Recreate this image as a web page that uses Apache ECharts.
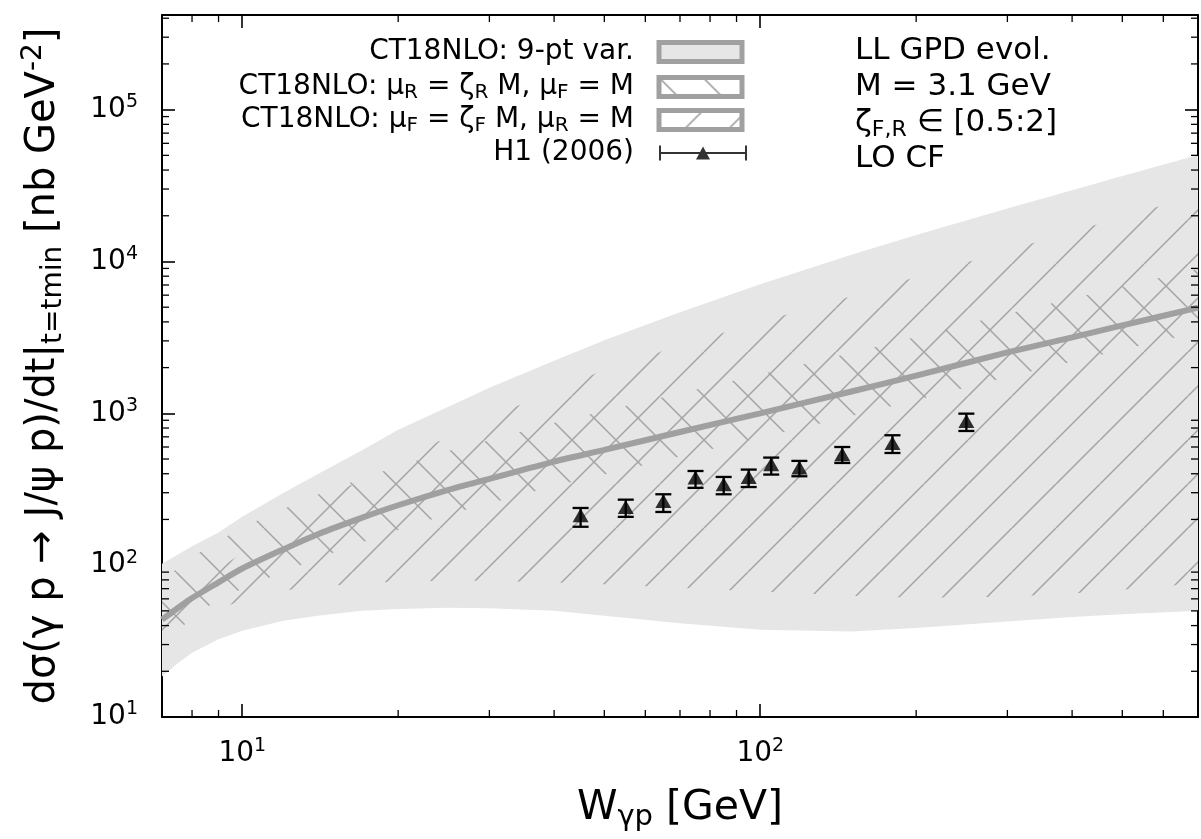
<!DOCTYPE html>
<html>
<head>
<meta charset="utf-8">
<script src="https://cdn.jsdelivr.net/npm/echarts/dist/echarts.min.js"></script>
<style>
  html, body { margin: 0; padding: 0; background: #fff; }
  #chart { width: 1201px; height: 839px; }
</style>
</head>
<body>
<div id="chart"></div>
<script>
// ---------------- data ----------------
const W = [7, 7.5, 8, 9, 10, 12, 14, 17, 20, 25, 30, 40, 50, 70, 100, 150, 200, 300, 400, 500, 700];
const centralLine   = [43.8, 52, 60.7, 77, 95, 127, 160, 205, 248, 313, 370, 481, 574, 753, 1000, 1393, 1770, 2518, 3166, 3795, 4964];
const band9ptLower  = [18.5, 22.5, 26.5, 32.5, 37, 43, 46.5, 50, 51.5, 52.5, 52, 50, 46.5, 41.5, 37.5, 36.5, 38.5, 42.5, 45.5, 47.5, 50];
const band9ptUpper  = [102, 117, 133, 164, 208, 299, 399, 568, 778, 1104, 1472, 2222, 3027, 4634, 7079, 11090, 14950, 22340, 29500, 36560, 50350];
const muRLower      = [30, 36, 46, 59, 70, 90, 111, 141, 171, 216, 255, 332, 396, 520, 690, 961, 1221, 1737, 2185, 2619, 3425];
const muRUpper      = [80, 95, 113, 144, 177, 234, 292, 372, 448, 565, 668, 868, 1035, 1355, 1800, 2507, 3186, 4532, 5699, 6831, 8935];
const muFLower      = [28, 35, 41, 51, 59, 68, 72, 76, 78, 79, 79, 77, 75, 71, 67, 63, 61, 62, 65, 69, 76];
const muFUpper      = [50, 60, 72, 95, 120, 190, 255, 370, 490, 700, 930, 1420, 1930, 2800, 4000, 5900, 7900, 11800, 15700, 19600, 27400];

const h1W   = [45, 55, 65, 75, 85, 95, 105, 119, 144, 180, 250];
const h1Val = [213, 242, 265, 378, 341, 381, 462, 439, 537, 638, 889];
const h1Lo  = [179, 208, 224, 323, 293, 327, 395, 385, 471, 548, 765];
const h1Hi  = [238, 270, 293, 417, 381, 426, 511, 486, 600, 717, 995];

const xMajorTicks = [10, 100];
const xMinorTicks = [8, 9, 20, 30, 40, 50, 60, 70, 80, 90, 200, 300, 400, 500, 600];
const yMajorTicks = [10, 100, 1000, 10000, 100000];
const yMinorTicks = [20, 30, 40, 50, 60, 70, 80, 90,
                     200, 300, 400, 500, 600, 700, 800, 900,
                     2000, 3000, 4000, 5000, 6000, 7000, 8000, 9000,
                     20000, 30000, 40000, 50000, 60000, 70000, 80000, 90000,
                     200000, 300000, 400000];

const nameBand = 'CT18NLO: 9-pt var.';
const nameMuR  = 'CT18NLO: μR = ζR M, μF = M';
const nameMuF  = 'CT18NLO: μF = ζF M, μR = M';
const nameH1   = 'H1 (2006)';
const legendText = {};
legendText[nameBand] = 'CT18NLO: 9-pt var.';
legendText[nameMuR]  = 'CT18NLO: μ{sub|R} = ζ{sub|R} M, μ{sub|F} = M';
legendText[nameMuF]  = 'CT18NLO: μ{sub|F} = ζ{sub|F} M, μ{sub|R} = M';
legendText[nameH1]   = 'H1 (2006)';

// ---------------- styles ----------------
const FONT = 'DejaVu Sans';
const BAND_GREY = '#e6e6e6';
const EDGE_GREY = '#a0a0a0';
const HATCH_GREY = '#a4a4a4';

function hatch(dir, S, color, lw) {
  const c = document.createElement('canvas');
  c.width = S; c.height = S;
  const ctx = c.getContext('2d');
  ctx.strokeStyle = color;
  ctx.lineWidth = lw;
  ctx.beginPath();
  for (let k = -1; k <= 1; k++) {
    if (dir === '/') { ctx.moveTo(k * S, S); ctx.lineTo(k * S + S, 0); }
    else { ctx.moveTo(k * S, 0); ctx.lineTo(k * S + S, S); }
  }
  ctx.stroke();
  return { image: c, repeat: 'repeat' };
}
const hatchFwd = hatch('/', 44, HATCH_GREY, 1.5);
const hatchBack = hatch('\\', 44, HATCH_GREY, 1.5);
const hatchFwdLeg = hatch('/', 44, HATCH_GREY, 1.6);
const hatchBackLeg = hatch('\\', 44, HATCH_GREY, 1.6);

function isMajor(list, v) {
  return list.some(t => Math.abs(t - v) / t < 1e-6);
}
function powLabel(list) {
  return function (v) {
    if (!isMajor(list, v)) return '';
    return '10{sup|' + Math.round(Math.log10(v)) + '}';
  };
}

function bandSeries(name, lower, upper, fill, z) {
  return {
    type: 'custom',
    name: name,
    coordinateSystem: 'cartesian2d',
    clip: true,
    silent: true,
    z: z,
    data: [[W[0], lower[0]]],
    renderItem: function (params, api) {
      const pts = [];
      for (let i = 0; i < W.length; i++) pts.push(api.coord([W[i], upper[i]]));
      for (let i = W.length - 1; i >= 0; i--) pts.push(api.coord([W[i], lower[i]]));
      return { type: 'polygon', shape: { points: pts }, style: { fill: fill, stroke: null } };
    }
  };
}

const tickStyle = { stroke: '#000', lineWidth: 1.3 };
const MINOR = 7;

const labelRich = {
  sup: { fontFamily: FONT, fontSize: 19, lineHeight: 20, verticalAlign: 'top', color: '#000' }
};

const legendTextStyle = {
  fontFamily: FONT, fontSize: 28, color: '#000', lineHeight: 32,
  padding: [0, 20, 0, 0],
  rich: { sub: { fontFamily: FONT, fontSize: 20, lineHeight: 16, verticalAlign: 'bottom', color: '#000' } }
};
function legendBlock(name, top, itemStyle, icon, iw, ih, right) {
  return {
    orient: 'vertical', align: 'right', right: right, top: top, padding: 0,
    selectedMode: false, itemWidth: iw, itemHeight: ih, icon: icon,
    textStyle: legendTextStyle,
    formatter: function (n) { return legendText[n]; },
    data: [{ name: name, icon: icon, itemStyle: itemStyle }]
  };
}

const chart = echarts.init(document.getElementById('chart'), null, { renderer: 'canvas' });

const axisCommon = {
  type: 'log', logBase: 10,
  splitLine: { show: false },
  axisLine: { show: true, onZero: false, lineStyle: { color: '#000', width: 2 } },
  axisTick: { show: true, inside: true, length: 13, lineStyle: { color: '#000', width: 1.6 } }
};

const option = {
  animation: false,
  backgroundColor: '#fff',
  grid: { left: 162, top: 15, right: -2, bottom: 122 },
  title: {
    left: 855, top: 33, padding: 0,
    text: 'LL GPD evol.\nM = 3.1 GeV\nζ{sub|F,R} ∈ [0.5:2]\nLO CF',
    textStyle: {
      fontFamily: FONT, fontSize: 31, fontWeight: 'normal', color: '#000', lineHeight: 36,
      rich: { sub: { fontFamily: FONT, fontSize: 22, fontWeight: 'normal', lineHeight: 18, verticalAlign: 'bottom', color: '#000' } }
    }
  },
  legend: [
    legendBlock(nameBand, 36, { color: BAND_GREY, borderColor: EDGE_GREY, borderWidth: 5 }, 'rect', 83, 19, 456.5),
    legendBlock(nameMuR, 71, { color: hatchBackLeg, borderColor: EDGE_GREY, borderWidth: 5 }, 'rect', 83, 19, 456.5),
    legendBlock(nameMuF, 104, { color: hatchFwdLeg, borderColor: EDGE_GREY, borderWidth: 5 }, 'rect', 83, 19, 456.5),
    legendBlock(nameH1, 137, { color: '#000', borderWidth: 0 },
      'path://M0,0H2V6.5H86V0H88V15H86V8.5H2V15H0Z M37,14L44,1L51,14Z', 88, 15, 454)
  ],
  xAxis: [
    Object.assign({}, axisCommon, {
      position: 'bottom', min: 7, max: 700,
      axisLabel: {
        show: true, interval: 0, margin: 20, formatter: powLabel(xMajorTicks),
        fontFamily: FONT, fontSize: 28, lineHeight: 34, color: '#000', rich: labelRich
      },
      name: 'W{sub|γp} [GeV]', nameLocation: 'middle', nameGap: 67,
      nameTextStyle: {
        fontFamily: FONT, fontSize: 41, color: '#000', lineHeight: 48,
        rich: { sub: { fontFamily: FONT, fontSize: 29, lineHeight: 28, verticalAlign: 'bottom', color: '#000' } }
      }
    }),
    Object.assign({}, axisCommon, {
      position: 'top', min: 7, max: 700, axisLabel: { show: false }
    })
  ],
  yAxis: [
    Object.assign({}, axisCommon, {
      position: 'left', min: 10, max: 420000,
      axisLabel: {
        show: true, interval: 0, margin: 24, showMinLabel: true, formatter: powLabel(yMajorTicks),
        fontFamily: FONT, fontSize: 28, lineHeight: 34, color: '#000', rich: labelRich
      },
      name: 'dσ(γ p → J/ψ p)/dt|{sub|t=tmin} [nb GeV{sup|-2}]',
      nameLocation: 'middle', nameGap: 94, nameRotate: 90,
      nameTextStyle: {
        fontFamily: FONT, fontSize: 40, color: '#000', lineHeight: 48,
        rich: {
          sub: { fontFamily: FONT, fontSize: 28, lineHeight: 28, verticalAlign: 'bottom', color: '#000' },
          sup: { fontFamily: FONT, fontSize: 28, lineHeight: 28, verticalAlign: 'top', color: '#000' }
        }
      }
    }),
    Object.assign({}, axisCommon, {
      position: 'right', min: 10, max: 420000, axisLabel: { show: false }
    })
  ],
  series: [
    bandSeries(nameBand, band9ptLower, band9ptUpper, BAND_GREY, 1),
    bandSeries(nameMuF, muFLower, muFUpper, hatchFwd, 2),
    bandSeries(nameMuR, muRLower, muRUpper, hatchBack, 3),
    {
      type: 'line', name: 'CT18NLO central', z: 4, silent: true,
      data: W.map((w, i) => [w, centralLine[i]]),
      showSymbol: false, smooth: 0.25,
      lineStyle: { color: EDGE_GREY, width: 6 }
    },
    {
      type: 'custom', name: 'H1 errors', z: 5, silent: true,
      data: h1W.map((w, i) => [w, h1Lo[i], h1Hi[i]]),
      encode: { x: 0, y: [1, 2] },
      renderItem: function (params, api) {
        const w = api.value(0);
        const lo = api.coord([w, api.value(1)]);
        const hi = api.coord([w, api.value(2)]);
        const hw = 8;
        const st = { stroke: '#000', lineWidth: 2.3 };
        return {
          type: 'group', children: [
            { type: 'line', shape: { x1: lo[0], y1: lo[1], x2: hi[0], y2: hi[1] }, style: st },
            { type: 'line', shape: { x1: lo[0] - hw, y1: lo[1], x2: lo[0] + hw, y2: lo[1] }, style: st },
            { type: 'line', shape: { x1: hi[0] - hw, y1: hi[1], x2: hi[0] + hw, y2: hi[1] }, style: st }
          ]
        };
      }
    },
    {
      type: 'scatter', name: nameH1, z: 6, silent: true,
      data: h1W.map((w, i) => [w, h1Val[i]]),
      symbol: 'triangle', symbolSize: [16, 14],
      itemStyle: { color: '#000' }
    },
    {
      type: 'custom', name: 'x minor ticks', z: 10, silent: true, clip: false,
      data: xMinorTicks.map(v => [v, 100]),
      renderItem: function (params, api) {
        const p = api.coord([api.value(0), api.value(1)]);
        const cs = params.coordSys;
        const yb = cs.y + cs.height, yt = cs.y;
        return {
          type: 'group', children: [
            { type: 'line', shape: { x1: p[0], y1: yb, x2: p[0], y2: yb - MINOR }, style: tickStyle },
            { type: 'line', shape: { x1: p[0], y1: yt, x2: p[0], y2: yt + MINOR }, style: tickStyle }
          ]
        };
      }
    },
    {
      type: 'custom', name: 'y minor ticks', z: 10, silent: true, clip: false,
      data: yMinorTicks.map(v => [10, v]),
      renderItem: function (params, api) {
        const p = api.coord([api.value(0), api.value(1)]);
        const cs = params.coordSys;
        const xl = cs.x, xr = cs.x + cs.width;
        return {
          type: 'group', children: [
            { type: 'line', shape: { x1: xl, y1: p[1], x2: xl + MINOR, y2: p[1] }, style: tickStyle },
            { type: 'line', shape: { x1: xr, y1: p[1], x2: xr - MINOR, y2: p[1] }, style: tickStyle }
          ]
        };
      }
    }
  ]
};
chart.setOption(option);
</script>
</body>
</html>
